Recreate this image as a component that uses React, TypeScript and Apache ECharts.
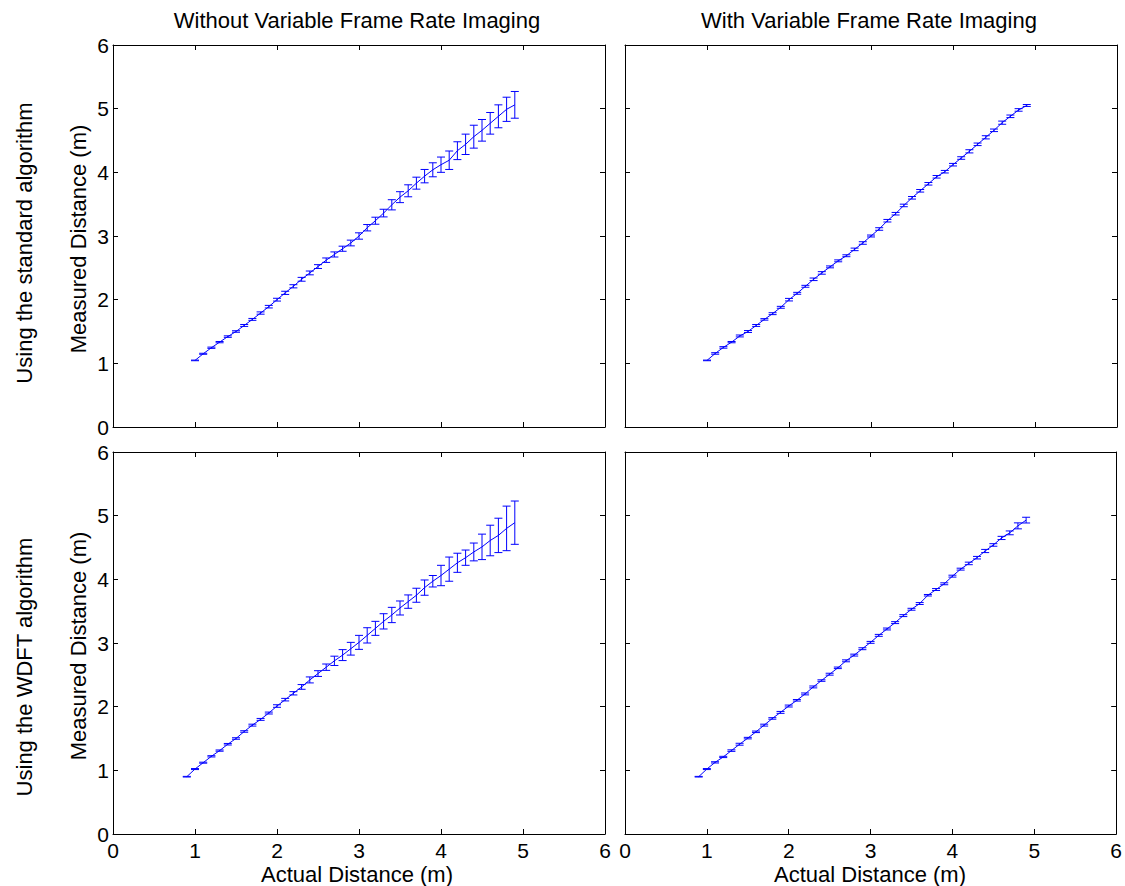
import React, { useEffect, useRef } from "react";
import * as echarts from "echarts";

const X_TOP = [1.0, 1.1, 1.2, 1.3, 1.4, 1.5, 1.6, 1.7, 1.8, 1.9, 2.0, 2.1, 2.2, 2.3, 2.4, 2.5, 2.6, 2.7, 2.8, 2.9, 3.0, 3.1, 3.2, 3.3, 3.4, 3.5, 3.6, 3.7, 3.8, 3.9, 4.0, 4.1, 4.2, 4.3, 4.4, 4.5, 4.6, 4.7, 4.8, 4.9];
const X_BOTTOM = [0.9, 1.0, 1.1, 1.2, 1.3, 1.4, 1.5, 1.6, 1.7, 1.8, 1.9, 2.0, 2.1, 2.2, 2.3, 2.4, 2.5, 2.6, 2.7, 2.8, 2.9, 3.0, 3.1, 3.2, 3.3, 3.4, 3.5, 3.6, 3.7, 3.8, 3.9, 4.0, 4.1, 4.2, 4.3, 4.4, 4.5, 4.6, 4.7, 4.8, 4.9];

const TL_MEAN = [1.046, 1.15, 1.245, 1.333, 1.42, 1.5, 1.595, 1.69, 1.79, 1.89, 2.0, 2.107, 2.21, 2.32, 2.42, 2.52, 2.62, 2.71, 2.8, 2.89, 3.0, 3.13, 3.24, 3.36, 3.49, 3.61, 3.71, 3.83, 3.94, 4.04, 4.12, 4.19, 4.34, 4.44, 4.56, 4.66, 4.77, 4.88, 4.99, 5.06];
const TL_ERR = [0.005, 0.008, 0.01, 0.01, 0.012, 0.012, 0.015, 0.015, 0.018, 0.02, 0.022, 0.025, 0.025, 0.03, 0.03, 0.03, 0.035, 0.04, 0.04, 0.045, 0.05, 0.05, 0.055, 0.06, 0.08, 0.086, 0.094, 0.094, 0.105, 0.11, 0.12, 0.145, 0.14, 0.16, 0.18, 0.17, 0.17, 0.18, 0.19, 0.21];

const TR_MEAN = [1.046, 1.155, 1.25, 1.333, 1.43, 1.5, 1.595, 1.69, 1.78, 1.88, 2.0, 2.1, 2.21, 2.32, 2.42, 2.515, 2.61, 2.69, 2.79, 2.89, 3.0, 3.11, 3.24, 3.35, 3.48, 3.6, 3.71, 3.82, 3.93, 4.01, 4.12, 4.225, 4.33, 4.44, 4.55, 4.66, 4.78, 4.88, 4.98, 5.05];
const TR_ERR = [0.005, 0.012, 0.012, 0.01, 0.015, 0.015, 0.015, 0.012, 0.015, 0.015, 0.02, 0.015, 0.015, 0.02, 0.02, 0.015, 0.015, 0.015, 0.02, 0.02, 0.015, 0.02, 0.02, 0.02, 0.02, 0.02, 0.02, 0.02, 0.02, 0.02, 0.02, 0.02, 0.025, 0.02, 0.025, 0.02, 0.025, 0.02, 0.02, 0.015];

const BL_MEAN = [0.9, 1.02, 1.12, 1.22, 1.31, 1.41, 1.5, 1.61, 1.71, 1.8, 1.9, 2.01, 2.11, 2.21, 2.31, 2.42, 2.52, 2.62, 2.72, 2.81, 2.91, 3.01, 3.12, 3.23, 3.34, 3.44, 3.55, 3.65, 3.75, 3.87, 3.97, 4.06, 4.16, 4.26, 4.34, 4.43, 4.51, 4.61, 4.69, 4.8, 4.89];
const BL_ERR = [0.005, 0.008, 0.008, 0.01, 0.01, 0.012, 0.012, 0.012, 0.015, 0.015, 0.015, 0.02, 0.02, 0.026, 0.037, 0.047, 0.045, 0.05, 0.073, 0.086, 0.1, 0.11, 0.12, 0.11, 0.12, 0.12, 0.11, 0.105, 0.11, 0.12, 0.09, 0.16, 0.19, 0.15, 0.12, 0.14, 0.2, 0.24, 0.27, 0.35, 0.34];

const BR_MEAN = [0.9, 1.02, 1.125, 1.21, 1.31, 1.41, 1.506, 1.605, 1.71, 1.815, 1.91, 2.01, 2.1, 2.2, 2.31, 2.41, 2.51, 2.61, 2.72, 2.81, 2.91, 3.01, 3.12, 3.22, 3.32, 3.43, 3.53, 3.62, 3.75, 3.84, 3.93, 4.05, 4.16, 4.25, 4.34, 4.445, 4.54, 4.65, 4.73, 4.84, 4.93];
const BR_ERR = [0.005, 0.008, 0.01, 0.01, 0.012, 0.015, 0.012, 0.012, 0.015, 0.012, 0.015, 0.015, 0.012, 0.015, 0.015, 0.012, 0.015, 0.012, 0.015, 0.015, 0.015, 0.015, 0.015, 0.015, 0.015, 0.015, 0.015, 0.015, 0.012, 0.015, 0.015, 0.015, 0.015, 0.02, 0.02, 0.025, 0.02, 0.025, 0.03, 0.047, 0.045];

const AXIS_TICKS = [0, 1, 2, 3, 4, 5, 6];
const COL_TITLES = ["Without Variable Frame Rate Imaging", "With Variable Frame Rate Imaging"];
const ROW_TITLES = ["Using the standard algorithm", "Using the WDFT algorithm"];
const X_NAME = "Actual Distance (m)";
const Y_NAME = "Measured Distance (m)";

const FONT = "'Liberation Sans', Arial, Helvetica, sans-serif";
const BLUE = "#0000ff";

export default function App() {
  const ref = useRef<HTMLDivElement>(null);
  useEffect(() => {
    if (!ref.current) return;
    const chart = echarts.init(ref.current, null, { renderer: "svg" });

    const panels = [
      { x: X_TOP, mean: TL_MEAN, err: TL_ERR, left: 113, top: 45, row: 0, col: 0 },
      { x: X_TOP, mean: TR_MEAN, err: TR_ERR, left: 625, top: 45, row: 0, col: 1 },
      { x: X_BOTTOM, mean: BL_MEAN, err: BL_ERR, left: 113, top: 452, row: 1, col: 0 },
      { x: X_BOTTOM, mean: BR_MEAN, err: BR_ERR, left: 625, top: 452, row: 1, col: 1 },
    ];
    const W = 492;
    const H = 382;
    const axMin = AXIS_TICKS[0];
    const axMax = AXIS_TICKS[AXIS_TICKS.length - 1];

    const grid: any[] = [];
    const xAxis: any[] = [];
    const yAxis: any[] = [];
    const series: any[] = [];

    const baseAxis = (showLabel: boolean, margin: number) => ({
      type: "value",
      min: axMin,
      max: axMax,
      interval: 1,
      axisLine: { show: true, onZero: false, lineStyle: { color: "#000", width: 1 } },
      axisTick: { show: true, inside: true, length: 5, lineStyle: { color: "#000", width: 1 } },
      splitLine: { show: false },
      axisLabel: {
        show: showLabel,
        color: "#000",
        fontSize: 21,
        lineHeight: 20,
        fontFamily: FONT,
        margin,
        showMinLabel: true,
        showMaxLabel: true,
      },
    });

    panels.forEach((p, i) => {
      grid.push({ left: p.left, top: p.top, width: W, height: H, show: false });
      xAxis.push({ ...baseAxis(p.row === 1, 6), gridIndex: i, position: "bottom" });
      xAxis.push({ ...baseAxis(false, 6), gridIndex: i, position: "top" });
      yAxis.push({ ...baseAxis(p.col === 0, 4), gridIndex: i, position: "left" });
      yAxis.push({ ...baseAxis(false, 4), gridIndex: i, position: "right" });

      const lineData = p.x.map((x, k) => [x, p.mean[k]]);
      const errData = p.x.map((x, k) => [x, p.mean[k] - p.err[k], p.mean[k] + p.err[k]]);

      series.push({
        type: "line",
        xAxisIndex: 2 * i,
        yAxisIndex: 2 * i,
        data: lineData,
        showSymbol: false,
        symbol: "none",
        lineStyle: { color: BLUE, width: 1 },
        itemStyle: { color: BLUE },
        z: 3,
      });
      series.push({
        type: "custom",
        xAxisIndex: 2 * i,
        yAxisIndex: 2 * i,
        data: errData,
        encode: { x: 0, y: [1, 2] },
        z: 4,
        renderItem: (params: any, api: any) => {
          const x = api.value(0);
          const lo = api.coord([x, api.value(1)]);
          const hi = api.coord([x, api.value(2)]);
          const hw = 4;
          const st = { stroke: BLUE, lineWidth: 1 };
          return {
            type: "group",
            children: [
              { type: "line", shape: { x1: lo[0], y1: lo[1], x2: hi[0], y2: hi[1] }, style: st },
              { type: "line", shape: { x1: lo[0] - hw, y1: lo[1], x2: lo[0] + hw, y2: lo[1] }, style: st },
              { type: "line", shape: { x1: hi[0] - hw, y1: hi[1], x2: hi[0] + hw, y2: hi[1] }, style: st },
            ],
          };
        },
      });
    });

    const textStyle = (text: string, size: number) => ({
      text,
      font: `${size}px ${FONT}`,
      fill: "#000",
      textAlign: "center",
      textVerticalAlign: "middle",
      align: "center",
      verticalAlign: "middle",
    });

    const graphic: any[] = [
      { type: "text", x: 357, y: 20, style: textStyle(COL_TITLES[0], 22) },
      { type: "text", x: 869, y: 20, style: textStyle(COL_TITLES[1], 22) },
      { type: "text", x: 24, y: 243, rotation: Math.PI / 2, style: textStyle(ROW_TITLES[0], 22) },
      { type: "text", x: 24, y: 667, rotation: Math.PI / 2, style: textStyle(ROW_TITLES[1], 22) },
      { type: "text", x: 78, y: 239, rotation: Math.PI / 2, style: textStyle(Y_NAME, 22) },
      { type: "text", x: 78, y: 646, rotation: Math.PI / 2, style: textStyle(Y_NAME, 22) },
      { type: "text", x: 357, y: 874, style: textStyle(X_NAME, 22) },
      { type: "text", x: 870, y: 874, style: textStyle(X_NAME, 22) },
    ];

    chart.setOption({
      animation: false,
      backgroundColor: "#fff",
      grid,
      xAxis,
      yAxis,
      series,
      graphic,
    });
    return () => chart.dispose();
  }, []);

  return (
    <div
      ref={ref}
      style={{ position: "absolute", left: 0, top: 0, width: 1125, height: 886 }}
    />
  );
}
